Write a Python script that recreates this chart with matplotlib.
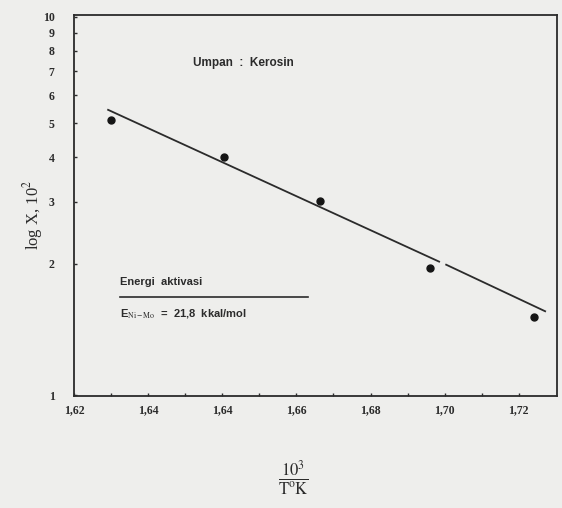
import numpy as np
import matplotlib
matplotlib.use('Agg')
import matplotlib.pyplot as plt
from matplotlib.ticker import FixedLocator, NullLocator

# data
x_points = [1.610, 1.6405, 1.6664, 1.6961, 1.7241]
y_points = [5.11, 4.01, 3.01, 1.95, 1.42]

# fitted line (printed with a small gap near 1,70)
line_x = [1.6092, 1.6985, np.nan, 1.7004, 1.7271]
line_y = [5.45, 2.03, np.nan, 1.99, 1.47]

xtick_pos = [1.60, 1.62, 1.64, 1.66, 1.68, 1.70, 1.72]
xtick_labels = ['1,62', '1,64', '1,64', '1,66', '1,68', '1,70', '1,72']
ytick_pos = [0.85, 2, 3, 4, 5, 6, 7, 8, 9, 10]
ytick_labels = ['1', '2', '3', '4', '5', '6', '7', '8', '9', '10']

bg = '#eeeeec'
ink = '#2b2b2b'
plt.rcParams['mathtext.fontset'] = 'stix'

fig = plt.figure(figsize=(5.62, 5.08), dpi=100, facecolor=bg)
ax = fig.add_axes([74/562, 1 - 396/508, (557-74)/562, (396-15)/508])
ax.set_facecolor(bg)

ax.plot(line_x, line_y, color=ink, lw=1.3)
ax.plot(x_points, y_points, 'o', color='#151515', ms=5)

ax.set_yscale('log')
ax.set_xlim(1.600, 1.7303)
ax.set_ylim(0.847, 10.1)

ax.xaxis.set_major_locator(FixedLocator(xtick_pos))
ax.set_xticklabels(xtick_labels)
ax.xaxis.set_minor_locator(FixedLocator(np.arange(1.61, 1.72, 0.02)))
ax.yaxis.set_major_locator(FixedLocator(ytick_pos))
ax.yaxis.set_minor_locator(NullLocator())
ax.set_yticklabels(ytick_labels)

for lab in ax.get_xticklabels() + ax.get_yticklabels():
    lab.set_fontfamily('Liberation Serif')
    lab.set_fontweight('bold')
    lab.set_fontsize(8.5)
    lab.set_color(ink)

ax.tick_params(which='both', direction='in', length=2.5, width=1, color=ink)
ax.tick_params(axis='x', pad=6)
ax.tick_params(axis='y', pad=14)
for s in ax.spines.values():
    s.set_color(ink)
    s.set_linewidth(1.3)

# annotations
ax.text(0.35, 0.875, 'Umpan  :  Kerosin', transform=ax.transAxes,
        ha='center', va='center', fontsize=8.5, fontweight='bold',
        family='Liberation Sans', color=ink)
fig.text(120/562, 1 - 282/508, 'Energi  aktivasi', ha='left', va='center',
         fontsize=8, fontweight='bold', family='Liberation Sans', color=ink)
fig.add_artist(plt.Line2D([120/562, 308/562], [1 - 297/508, 1 - 297/508],
                          color=ink, lw=1.2))
fig.text(120/562, 1 - 314/508, r'E$_{\mathrm{Ni-Mo}}$  =  21,8  kkal/mol',
         ha='left', va='center', fontsize=8, fontweight='bold',
         family='Liberation Sans', color=ink)

fig.text(33/562, 1 - 215/508, r'log X, 10$^2$', rotation=90, ha='center',
         va='center', fontsize=12, family='Liberation Serif', color=ink)
fig.text(293/562, 1 - 478/508, r'$\frac{10^3}{\mathrm{T^oK}}$', ha='center',
         va='center', fontsize=17, color=ink)

fig.savefig('out.png', dpi=100, facecolor=bg)
